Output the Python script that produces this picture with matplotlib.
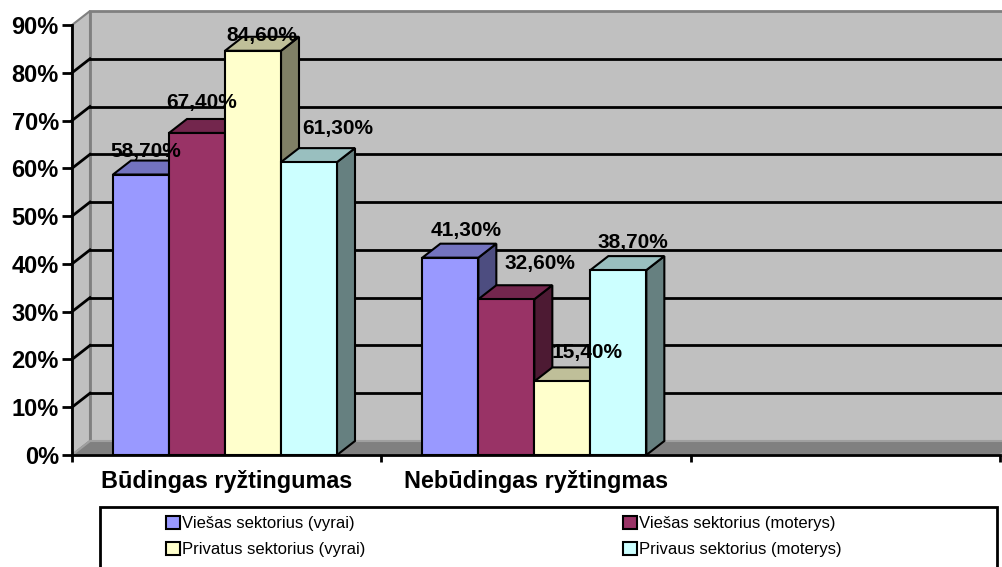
import matplotlib
matplotlib.use("Agg")
import matplotlib.pyplot as plt
from matplotlib.patches import Polygon, Rectangle, Patch

categories = ["Būdingas ryžtingumas", "Nebūdingas ryžtingmas", ""]
series_names = ["Viešas sektorius (vyrai)", "Viešas sektorius (moterys)",
                "Privatus sektorius (vyrai)", "Privaus sektorius (moterys)"]
values = [
    [58.7, 41.3],
    [67.4, 32.6],
    [84.6, 15.4],
    [61.3, 38.7],
]
yticks = [0, 10, 20, 30, 40, 50, 60, 70, 80, 90]

# styling / layout
colors = ["#9999FF", "#993366", "#FFFFCC", "#CCFFFF"]
# label offsets from front top centre of each bar, in pixels (right, up)
label_offsets = [
    [(5, 23), (16, 27)],
    [(5, 30), (34, 36)],
    [(9, 15), (25, 29)],
    [(29, 34), (15, 28)],
]


def shade(c, f):
    r, g, b = matplotlib.colors.to_rgb(c)
    return (r * f, g * f, b * f)


W, H = 1003, 567
fig = plt.figure(figsize=(W / 100, H / 100), dpi=100)
ax = fig.add_axes([72 / W, (H - 455) / H, 928 / W, 430 / H])
ax.set_xlim(0, 3)
ax.set_ylim(0, 90)
ax.set_facecolor("none")

px_x = 3 / 928      # data units per pixel
px_y = 90 / 430
dx = 18 * px_x      # depth offset
dy = 14 * px_y
top = yticks[-1]

# walls and floor
back = Polygon([(dx, dy), (3 + dx, dy), (3 + dx, top + dy), (dx, top + dy)],
               closed=True, facecolor="#C0C0C0", edgecolor="#808080", lw=2,
               clip_on=False, zorder=0.2)
side = Polygon([(0, 0), (dx, dy), (dx, top + dy), (0, top)], closed=True,
               facecolor="#C0C0C0", edgecolor="#808080", lw=1.5,
               clip_on=False, zorder=0.3)
floor = Polygon([(0, 0), (3, 0), (3 + dx, dy), (dx, dy)], closed=True,
                facecolor="#808080", edgecolor="#A0A0A0", lw=1.5,
                clip_on=False, zorder=0.4)
for p in (back, side, floor):
    ax.add_patch(p)
for v in yticks[1:-1]:
    ax.plot([dx, 3 + dx], [v + dy, v + dy], color="black", lw=2,
            clip_on=False, zorder=0.5)
    ax.plot([0, dx], [v, v + dy], color="black", lw=2,
            clip_on=False, zorder=0.5)

# bars
bar_w = 56 * px_x
start = 41 * px_x
for j, vals in enumerate(values):
    z = 3 + j
    xs = [i + start + j * bar_w for i in range(len(vals))]
    ax.bar(xs, vals, width=bar_w, align="edge", color=colors[j],
           edgecolor="black", lw=1.5, zorder=z + 0.3)
    for i, (x, h) in enumerate(zip(xs, vals)):
        ax.add_patch(Polygon([(x + bar_w, 0), (x + bar_w + dx, dy),
                              (x + bar_w + dx, h + dy), (x + bar_w, h)],
                             closed=True, facecolor=shade(colors[j], 0.5),
                             edgecolor="black", lw=1.5, zorder=z))
        ax.add_patch(Polygon([(x, h), (x + bar_w, h),
                              (x + bar_w + dx, h + dy), (x + dx, h + dy)],
                             closed=True, facecolor=shade(colors[j], 0.75),
                             edgecolor="black", lw=1.5, zorder=z + 0.1))
        ox, oy = label_offsets[j][i]
        ax.annotate(f"{h:.2f}".replace(".", ",") + "%",
                    xy=(x + bar_w / 2, h), xytext=(ox * 0.72, oy * 0.72),
                    textcoords="offset points", ha="center", va="center",
                    fontsize=15, fontweight="bold", family="Liberation Sans",
                    zorder=20, annotation_clip=False)

# axes
for s in ("top", "right"):
    ax.spines[s].set_visible(False)
for s in ("left", "bottom"):
    ax.spines[s].set_linewidth(2)
    ax.spines[s].set_zorder(10)
ax.set_yticks(yticks)
ax.set_yticklabels([f"{v}%" for v in yticks], fontsize=17,
                   fontweight="bold", family="Liberation Sans")
ax.tick_params(axis="y", length=7, width=2, pad=2.5)
ax.set_xticks([0, 1, 2, 3])
ax.set_xticklabels([])
ax.tick_params(axis="x", which="major", length=5, width=2)
ax.set_xticks([0.5, 1.5, 2.5], minor=True)
ax.set_xticklabels(categories, minor=True, fontsize=16.8, fontweight="bold",
                   family="Liberation Sans")
ax.tick_params(axis="x", which="minor", length=0, pad=11)

# legend
fig.add_artist(Rectangle((100 / W, -0.05), 897 / W, (H - 507) / H + 0.05,
                         transform=fig.transFigure, facecolor="white",
                         edgecolor="black", lw=2, clip_on=False))
handles = [Patch(facecolor=c, edgecolor="black", lw=1.5) for c in colors]
for k, x0 in enumerate((166, 623)):
    fig.legend([handles[k], handles[k + 2]],
               [series_names[k], series_names[k + 2]],
               loc="upper left", bbox_to_anchor=(x0 / W, (H - 516) / H),
               frameon=False, borderpad=0, borderaxespad=0,
               handlelength=0.85, handleheight=0.85, handletextpad=0.1,
               labelspacing=0.62,
               prop={"family": "Liberation Sans", "size": 12})

fig.savefig("out.png", dpi=100)
